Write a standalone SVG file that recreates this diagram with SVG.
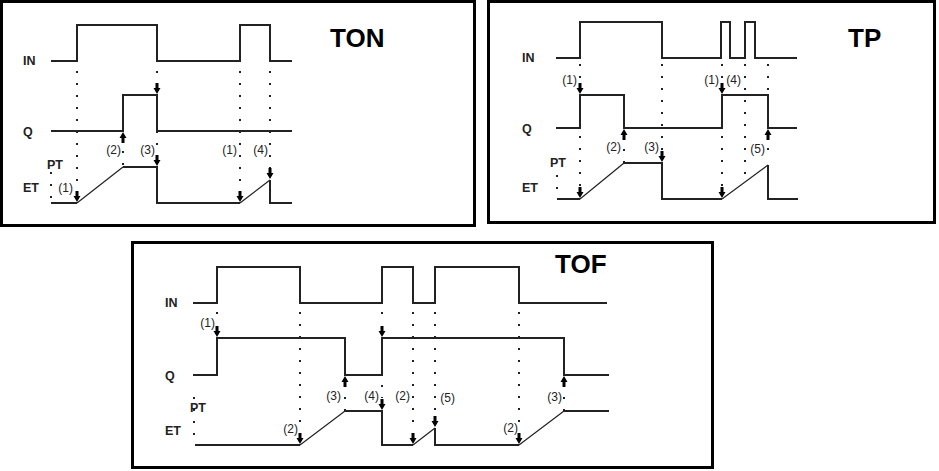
<svg xmlns="http://www.w3.org/2000/svg" xmlns:xlink="http://www.w3.org/1999/xlink" width="939" height="471" viewBox="0 0 939 471">
<style>
.box{fill:#fff;stroke:#000;stroke-width:3}
.sig{fill:none;stroke:#222;stroke-width:2;stroke-linejoin:miter}
.ramp{fill:none;stroke:#222;stroke-width:1.2}
.dot{fill:none;stroke:#222;stroke-width:2;stroke-dasharray:2 10}
.arr{fill:#000}
.lbl{font-family:"Liberation Sans",Arial,sans-serif;font-size:12.5px;font-weight:bold;fill:#222}
.num{font-family:"Liberation Sans",Arial,sans-serif;font-size:12px;fill:#222;text-anchor:end}
.ttl{font-family:"Liberation Sans",Arial,sans-serif;font-size:26px;font-weight:bold;fill:#000}
</style>
<defs>
<path id="ad" class="arr" d="M0,0 L-3.5,-6 H-1.5 V-11 H1.5 V-6 H3.5 Z"/>
<path id="au" class="arr" d="M0,0 L-3.5,6 H-1.5 V11 H1.5 V6 H3.5 Z"/>
</defs>
<rect width="939" height="471" fill="#fff"/>

<g id="ton">
<rect class="box" x="1.5" y="1.5" width="473" height="224"/>
<text class="ttl" x="330" y="47">TON</text>
<text class="lbl" x="23" y="65">IN</text>
<text class="lbl" x="23" y="136">Q</text>
<text class="lbl" x="47" y="169">PT</text>
<text class="lbl" x="23" y="192">ET</text>
<g id="ton-signals">
<path class="sig" d="M51,61 H77 V25 H157 V61 H240 V25 H270 V61 H292"/>
<path class="sig" d="M51,131 H123 V95 H157 V131 H292"/>
<path class="sig" d="M51,203 H77 M123,167 H157 V203 H240 M270,180 V203 H292"/>
<path class="ramp" d="M77,203 L123,167 M240,203 L270,180"/>
</g>
<g id="ton-connectors">
<path class="dot" d="M77,71 V190 M157,71 V155 M123,165 V144 M240,71 V190 M270,71 V168 M51,172 V200"/>
<use href="#ad" x="157" y="94"/>
<use href="#au" x="123" y="132"/>
<use href="#ad" x="157" y="166"/>
<use href="#ad" x="77" y="202"/>
<use href="#ad" x="240" y="202"/>
<use href="#ad" x="270" y="179"/>
</g>
<text class="num" x="73" y="192">(1)</text>
<text class="num" x="121" y="154">(2)</text>
<text class="num" x="155" y="154">(3)</text>
<text class="num" x="237" y="154">(1)</text>
<text class="num" x="268" y="154">(4)</text>
</g>

<g id="tp">
<rect class="box" x="488.5" y="1.5" width="446" height="221"/>
<text class="ttl" x="848" y="47">TP</text>
<text class="lbl" x="522" y="62">IN</text>
<text class="lbl" x="522" y="133">Q</text>
<text class="lbl" x="550" y="167">PT</text>
<text class="lbl" x="522" y="192">ET</text>
<g id="tp-signals">
<path class="sig" d="M556,58 H580 V22 H662 V58 H721 V22 H730 V58 H745 V22 H755 V58 H797"/>
<path class="sig" d="M556,128 H580 V95 H624 V128 H722 V95 H768 V128 H797"/>
<path class="sig" d="M557,199 H580 M624,163 H662 V199 H722 M768,165 V199 H798"/>
<path class="ramp" d="M580,199 L624,163 M722,199 L768,165"/>
</g>
<g id="tp-connectors">
<path class="dot" d="M580,64 V186 M624,163 V142 M662,64 V150 M722,64 V186 M745,64 V182 M768,64 V160 M557,175 V199"/>
<use href="#ad" x="580" y="94"/>
<use href="#au" x="624" y="129"/>
<use href="#ad" x="662" y="162"/>
<use href="#ad" x="580" y="198"/>
<use href="#ad" x="722" y="94"/>
<use href="#au" x="768" y="129"/>
<use href="#ad" x="722" y="198"/>
</g>
<text class="num" x="577" y="84">(1)</text>
<text class="num" x="719" y="84">(1)</text>
<text class="num" x="741" y="84">(4)</text>
<text class="num" x="621" y="151">(2)</text>
<text class="num" x="659" y="151">(3)</text>
<text class="num" x="765" y="153">(5)</text>
</g>

<g id="tof">
<rect class="box" x="132.5" y="242.5" width="580" height="225"/>
<text class="ttl" x="555" y="273">TOF</text>
<text class="lbl" x="165" y="307">IN</text>
<text class="lbl" x="165" y="380">Q</text>
<text class="lbl" x="190" y="412">PT</text>
<text class="lbl" x="165" y="435">ET</text>
<g id="tof-signals">
<path class="sig" d="M193,303 H217 V267 H300 V303 H382 V267 H413 V303 H435 V267 H519 V303 H607"/>
<path class="sig" d="M193,375 H217 V338 H345 V375 H382 V338 H564 V375 H609"/>
<path class="sig" d="M195,445 H300 M345,411 H382 V445 H413 M435,428 V445 H519 M564,411 H609"/>
<path class="ramp" d="M300,445 L345,411 M413,445 L435,428 M519,445 L564,411"/>
</g>
<g id="tof-connectors">
<path class="dot" d="M217,312 V324 M300,312 V432 M345,411 V390 M382,312 V324 M382,385 V398 M413,312 V432 M435,312 V415 M519,312 V432 M564,411 V390 M194,397 V445"/>
<use href="#ad" x="217" y="337"/>
<use href="#ad" x="382" y="337"/>
<use href="#au" x="345" y="376"/>
<use href="#ad" x="300" y="444"/>
<use href="#ad" x="382" y="410"/>
<use href="#ad" x="413" y="444"/>
<use href="#ad" x="435" y="427"/>
<use href="#ad" x="519" y="444"/>
<use href="#au" x="564" y="376"/>
</g>
<text class="num" x="215" y="327">(1)</text>
<text class="num" x="298" y="433">(2)</text>
<text class="num" x="341" y="400">(3)</text>
<text class="num" x="379" y="400">(4)</text>
<text class="num" x="410" y="400">(2)</text>
<text class="num" x="455" y="402">(5)</text>
<text class="num" x="518" y="432">(2)</text>
<text class="num" x="562" y="401">(3)</text>
</g>
</svg>
